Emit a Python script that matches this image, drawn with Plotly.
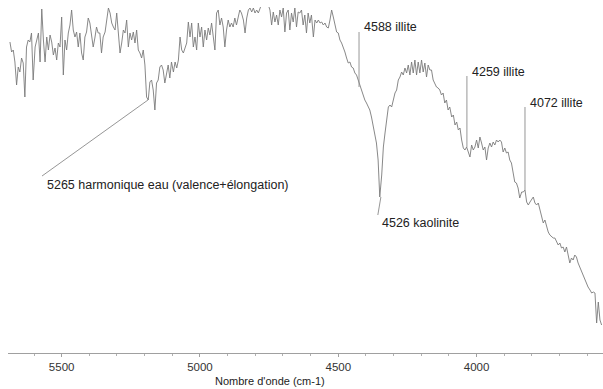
import plotly.graph_objects as go

# spectrum (wavenumber in cm-1, signal in arbitrary units)
wavenumber = [
    5687, 5681, 5675, 5669, 5663, 5657, 5651, 5645, 5639, 5633, 5627, 5621, 5615, 5609, 5603,
    5596, 5590, 5584, 5578, 5572, 5566, 5560, 5554, 5548, 5542, 5536, 5530, 5524, 5518, 5512,
    5506, 5500, 5494, 5488, 5482, 5476, 5470, 5464, 5458, 5452, 5446, 5440, 5434, 5428, 5422,
    5416, 5410, 5404, 5398, 5392, 5386, 5380, 5374, 5368,
    5362, 5356, 5350, 5343, 5337, 5331, 5325, 5319, 5313, 5307, 5301, 5295, 5289, 5283, 5277,
    5271, 5265, 5259, 5253, 5247, 5241, 5235, 5229, 5223, 5217, 5211, 5205, 5199, 5193, 5187,
    5181, 5175, 5169, 5163, 5157, 5151, 5145, 5139, 5133, 5127, 5121, 5115, 5109, 5103, 5096,
    5090, 5084, 5078, 5072, 5066, 5060, 5054, 5048, 5042, 5036, 5030, 5024, 5018, 5012, 5006,
    5000, 4994, 4988, 4982, 4976, 4970, 4964, 4958, 4952, 4946, 4940, 4934, 4928, 4922, 4916,
    4910, 4904, 4898, 4892, 4886, 4880, 4874, 4868, 4862, 4856, 4850, 4843, 4837, 4831, 4825,
    4819, 4813, 4807, 4801, 4795, 4789, 4783, 4777, 4771, 4765, 4759, 4753, 4747, 4741, 4735,
    4729, 4723, 4717, 4711, 4705, 4699, 4693, 4687, 4681, 4675, 4669, 4663, 4657, 4651, 4645,
    4639, 4633, 4627, 4621, 4615, 4609, 4603, 4597, 4590, 4584, 4578, 4572, 4566, 4560, 4554,
    4548, 4542, 4536, 4530, 4524, 4518, 4512, 4506, 4500, 4494, 4488, 4482, 4476, 4470, 4464,
    4458, 4452, 4446, 4440, 4434, 4428, 4422, 4416, 4410, 4404, 4398, 4392, 4386, 4380, 4374,
    4368, 4362, 4356, 4350, 4343, 4337, 4331, 4325, 4319, 4313, 4307, 4301, 4295, 4289, 4283,
    4277, 4271, 4265, 4259, 4253, 4247, 4241, 4235, 4229, 4223, 4217, 4211, 4205, 4199, 4193,
    4187, 4181, 4175, 4169, 4163, 4157, 4151, 4145, 4139, 4133, 4127, 4121, 4115, 4109, 4103,
    4097, 4090, 4084, 4078, 4072, 4066, 4060, 4054, 4048, 4042, 4036, 4030, 4024, 4018, 4012,
    4006, 4000, 3994, 3988, 3982, 3976, 3970, 3964, 3958, 3952, 3946, 3940, 3934, 3928, 3922,
    3916, 3910, 3904, 3898, 3892, 3886, 3880, 3874, 3868, 3862, 3856, 3850, 3844, 3837, 3831,
    3825, 3819, 3813, 3807, 3801, 3795, 3789, 3783, 3777, 3771, 3765, 3759, 3753, 3747, 3741,
    3735, 3729, 3723, 3717, 3711, 3705, 3699, 3693, 3687, 3681, 3675, 3669, 3663, 3657, 3651,
    3645, 3639, 3633, 3627, 3621, 3615, 3609, 3603, 3597, 3590, 3584, 3578, 3572, 3566, 3560,
    3554, 3548,
]
signal = [
    311, 301, 303, 291, 268, 286, 281, 295, 290, 256, 306, 313, 311, 320, 273,
    306, 313, 320, 291, 344, 313, 291, 316, 303, 318, 311, 298, 305, 293, 310,
    306, 336, 278, 313, 303, 320, 328, 343, 323, 316, 321, 306, 320, 300, 293,
    316, 321, 335, 330, 320, 306, 315, 326, 320,
    320, 300, 316, 321, 335, 345, 340, 330, 326, 323, 340, 320, 300, 310, 323,
    320, 333, 306, 320, 313, 321, 310, 323, 303, 300, 295, 303, 288, 256, 253,
    271, 273, 263, 243, 270, 273, 286, 288, 283, 270, 281, 288, 275, 291, 281,
    291, 285, 293, 316, 303, 300, 306, 310, 331, 316, 330, 306, 316, 303, 330,
    316, 326, 306, 323, 313, 325, 318, 330, 313, 303, 340, 343, 328, 335, 326,
    306, 323, 333, 326, 330, 326, 335, 328, 336, 343, 340, 333, 320, 335, 343,
    345, 341, 345, 340, 343, 340, 345, 349, 351, 353, 350, 348, 343, 328, 341,
    331, 338, 328, 343, 336, 345, 321, 340, 343, 323, 340, 331, 345, 326, 341,
    340, 343, 328, 338, 320, 340, 330, 338, 316, 333, 330, 333, 330, 331, 328,
    330, 326, 325, 333, 343, 336, 328, 321, 320, 313, 310, 306, 301, 295, 290,
    291, 286, 285, 280, 278, 273, 266, 261, 258, 253, 250, 246, 243, 236, 226,
    220, 210, 193, 156, 178, 206, 220, 236, 246, 248, 246, 253, 260, 263, 273,
    276, 281, 278, 285, 280, 288, 278, 291, 280, 293, 278, 291, 280, 293, 281,
    290, 276, 288, 283, 283, 273, 270, 266, 265, 263, 258, 260, 250, 253, 243,
    246, 236, 238, 228, 231, 223, 225, 213, 205, 203, 206, 201, 196, 208, 203,
    206, 213, 205, 216, 210, 203, 206, 193, 205, 210, 206, 211, 208, 213, 211,
    213, 211, 201, 205, 200, 201, 193, 190, 181, 171, 170, 165, 155, 161, 161,
    163, 151, 148, 151, 153, 156, 150, 148, 150, 143, 135, 130, 133, 126, 121,
    118, 116, 115, 115, 111, 108, 110, 105, 106, 101, 106, 96, 90, 95, 93,
    98, 96, 90, 86, 81, 78, 73, 70, 66, 63, 60, 61, 60, 30, 51,
    33, 28,
]

# band assignments: text, point on the curve, end of the leader line, label anchor
band_text = [
    "5265 harmonique eau (valence+élongation)",
    "4588 illite",
    "4526 kaolinite",
    "4259 illite",
    "4072 illite",
]
band_x = [5188, 4425, 4346, 4035, 3825]
band_y = [253, 266, 156, 206, 163]
leader_x = [5571, 4425, 4357, 4035, 3825]
leader_y = [177, 321, 138, 277, 246]
label_x = [5560, 4415, 4350, 4024, 3815]
label_y = [168, 326, 130, 281, 250]

FONT = "Liberation Sans, Arial, sans-serif"

fig = go.Figure()
fig.add_trace(
    go.Scatter(
        x=wavenumber,
        y=signal,
        mode="lines",
        line=dict(color="#7a7a7a", width=0.9),
        showlegend=False,
        cliponaxis=True,
    )
)

for i, txt in enumerate(band_text):
    fig.add_shape(
        type="line",
        x0=band_x[i],
        y0=band_y[i],
        x1=leader_x[i],
        y1=leader_y[i],
        line=dict(color="#8a8a8a", width=0.9),
    )
    fig.add_annotation(
        x=label_x[i],
        y=label_y[i],
        text=txt,
        showarrow=False,
        xanchor="left",
        yanchor="middle",
        font=dict(family=FONT, size=12.5, color="#222"),
    )

fig.add_annotation(
    x=0.44,
    y=-0.081,
    xref="paper",
    yref="paper",
    text="Nombre d'onde (cm-1)",
    showarrow=False,
    xanchor="center",
    yanchor="middle",
    font=dict(family=FONT, size=11, color="#222"),
)

fig.update_layout(
    width=603,
    height=389,
    margin=dict(l=8, r=0, t=7, b=36),
    plot_bgcolor="white",
    paper_bgcolor="white",
    font=dict(family=FONT),
    xaxis=dict(
        range=[5694, 3543],
        showgrid=False,
        zeroline=False,
        showline=True,
        linecolor="#a0a0a0",
        linewidth=1,
        ticks="outside",
        ticklen=3,
        tickcolor="#a0a0a0",
        tick0=0,
        dtick=500,
        minor=dict(ticks="outside", ticklen=2, dtick=100, tickcolor="#b0b0b0"),
        tickfont=dict(family=FONT, size=11.5, color="#333"),
    ),
    yaxis=dict(
        range=[0, 346],
        visible=False,
        showgrid=False,
        zeroline=False,
    ),
)

# the page body has a default margin; drop it so the figure sits at the window corner
fig.write_html(
    "out.html",
    config=dict(displayModeBar=False),
    post_script="document.body.style.margin='0';document.body.style.overflow='hidden';",
)
